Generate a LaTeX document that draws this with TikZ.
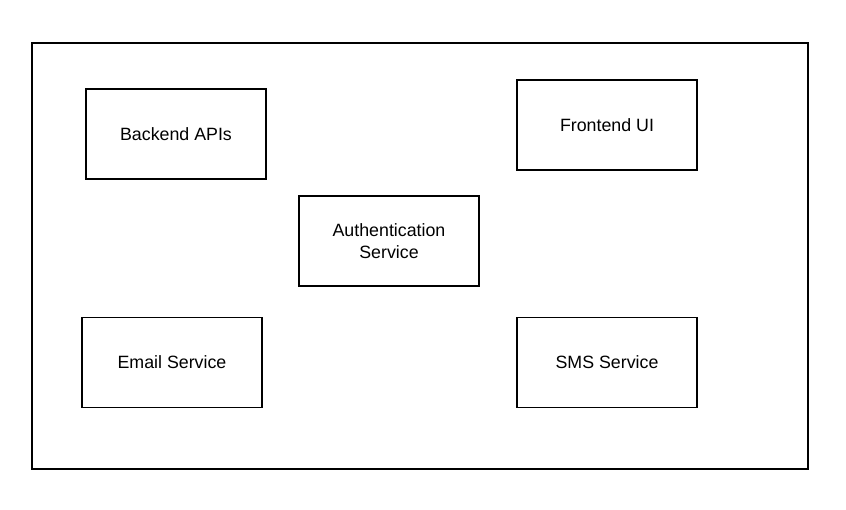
\documentclass[tikz,border=0pt]{standalone}
\usepackage{fontspec}
\setmainfont{Liberation Sans}
\begin{document}
\begin{tikzpicture}[x=1pt,y=-1pt,
  svc/.style={draw=black,line width=1.3pt,minimum width=180pt,minimum height=90pt,
    align=center,font=\fontsize{17.8}{21.5}\selectfont,inner sep=0pt},
  frame/.style={draw=black,line width=1.4pt}]
\useasboundingbox (0,0) rectangle (846,510);
\node[frame,minimum width=776pt,minimum height=426pt,inner sep=0pt] (outer) at (420,256) {};
\node[svc] (backend) at (176,134) {Backend APIs};
\node[svc] (frontend) at (607,125) {Frontend UI};
\node[svc] (auth) at (389,241) {Authentication\\Service};
\node[svc] (email) at (172,362.5) {Email Service};
\node[svc] (sms) at (607,362.5) {SMS Service};
\end{tikzpicture}
\end{document}
